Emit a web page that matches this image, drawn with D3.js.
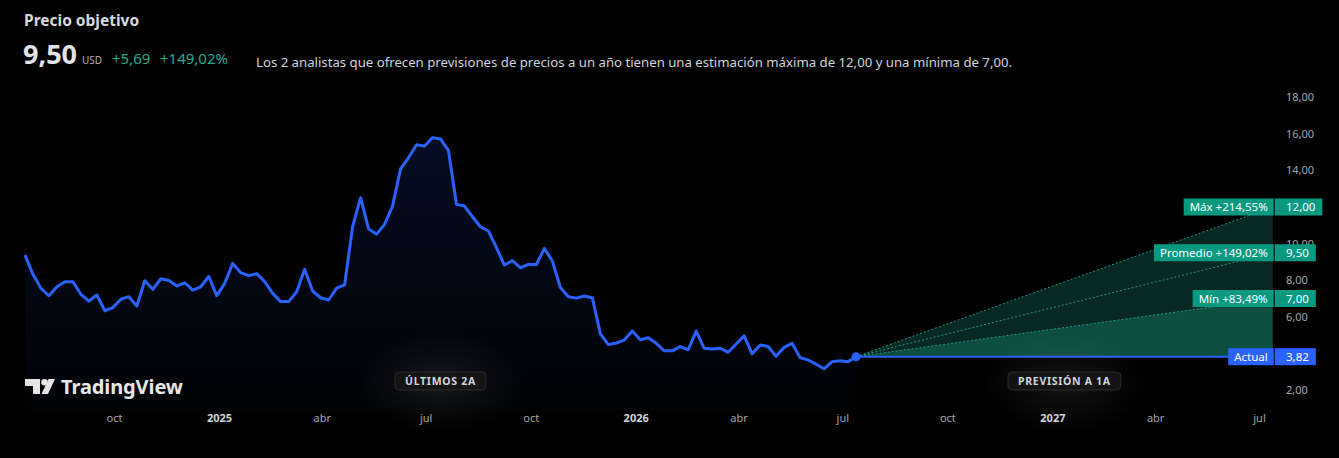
<!DOCTYPE html>
<html>
<head>
<meta charset="utf-8">
<script src="https://cdn.jsdelivr.net/npm/d3@7"></script>
<style>
  html, body { margin: 0; padding: 0; background: #000; }
  svg { display: block; font-family: 'Noto Sans', sans-serif; }
</style>
</head>
<body>
<div class="graphic_container"></div>
<script>
// weekly closes, Jul 2024 - Jul 2026
const firstWeek = new Date(2024, 6, 15);
const closes = [
  9.38, 8.32, 7.56, 7.15, 7.64, 7.92, 7.92, 7.23, 6.86, 7.19,
  6.33, 6.50, 6.96, 7.10, 6.59, 7.97, 7.50, 8.08, 7.99, 7.68,
  7.86, 7.46, 7.64, 8.20, 7.16, 7.83, 8.92, 8.41, 8.25, 8.36,
  7.92, 7.28, 6.83, 6.83, 7.37, 8.60, 7.41, 7.04, 6.92, 7.57,
  7.75, 10.92, 12.51, 10.80, 10.52, 11.05, 12.05, 14.08, 14.69, 15.40,
  15.33, 15.79, 15.72, 15.08, 12.15, 12.05, 11.47, 10.92, 10.69, 9.78,
  8.83, 9.07, 8.68, 8.86, 8.86, 9.74, 9.05, 7.60, 7.10, 7.02,
  7.14, 7.04, 5.08, 4.48, 4.57, 4.73, 5.23, 4.75, 4.86, 4.55,
  4.14, 4.14, 4.37, 4.20, 5.22, 4.28, 4.24, 4.28, 4.06, 4.51,
  4.96, 3.98, 4.46, 4.38, 3.84, 4.33, 4.55, 3.77, 3.64, 3.41,
  3.16, 3.55, 3.60, 3.55, 3.82
];

// analyst targets
const targetNames = ['Máx', 'Promedio', 'Mín'];
const targetValues = [12.00, 9.50, 7.00];
const targetChanges = ['+214,55%', '+149,02%', '+83,49%'];
const avgChange = '+5,69';
const currentPrice = 3.82;

const yTicks = [2, 4, 6, 8, 10, 12, 14, 16, 18];
const xTickDates = [
  new Date(2024, 9, 1), new Date(2025, 0, 1), new Date(2025, 3, 1), new Date(2025, 6, 1),
  new Date(2025, 9, 1), new Date(2026, 0, 1), new Date(2026, 3, 1), new Date(2026, 6, 1),
  new Date(2026, 9, 1), new Date(2027, 0, 1), new Date(2027, 3, 1), new Date(2027, 6, 1)
];
const xTickLabels = ['oct', '2025', 'abr', 'jul', 'oct', '2026', 'abr', 'jul', 'oct', '2027', 'abr', 'jul'];

const width = 1339, height = 458;
const green = '#22ab94';
const labelGreen = '#089981';
const blue = '#2962ff';

const data = closes.map((v, i) => ({ date: d3.timeWeek.offset(firstWeek, i), value: v }));
const last = data[data.length - 1];
const forecastEnd = d3.timeYear.offset(last.date, 1);

const x = d3.scaleTime()
  .domain([new Date(2024, 9, 1), new Date(2027, 6, 1)])
  .range([114, 1259]);

const y = d3.scaleLinear()
  .domain([2, 18])
  .range([390, 97.2]);

const fmt = v => d3.format('.2f')(v).replace('.', ',');

const svg = d3.select('.graphic_container')
  .append('svg')
  .attr('width', width)
  .attr('height', height);

const defs = svg.append('defs');

const areaGrad = defs.append('linearGradient')
  .attr('id', 'areaGrad')
  .attr('gradientUnits', 'userSpaceOnUse')
  .attr('x1', 0).attr('x2', 0)
  .attr('y1', y(16)).attr('y2', 410);
areaGrad.append('stop').attr('offset', 0).attr('stop-color', blue).attr('stop-opacity', 0.14);
areaGrad.append('stop').attr('offset', 1).attr('stop-color', blue).attr('stop-opacity', 0.02);

const glow = defs.append('radialGradient').attr('id', 'glow');
glow.append('stop').attr('offset', 0).attr('stop-color', '#3a3a3a').attr('stop-opacity', 0.35);
glow.append('stop').attr('offset', 1).attr('stop-color', '#3a3a3a').attr('stop-opacity', 0);

const x0 = x(data[0].date);
const xEnd = x(forecastEnd);
const plotRight = xEnd + 1;

// header
svg.append('text')
  .attr('x', 24).attr('y', 26)
  .style('font-size', '15.5px').style('font-weight', 700)
  .style('fill', '#d6d8de')
  .text('Precio objetivo');

svg.append('text')
  .attr('x', 23).attr('y', 64)
  .style('font-size', '27px').style('font-weight', 700)
  .style('fill', '#e3e4e8')
  .text(fmt(targetValues[1]));

svg.append('text')
  .attr('x', 82).attr('y', 64)
  .style('font-size', '10px')
  .style('fill', '#b2b5be')
  .text('USD');

svg.append('text')
  .attr('x', 112).attr('y', 64)
  .style('font-size', '15px')
  .style('fill', green)
  .text(avgChange);

svg.append('text')
  .attr('x', 160).attr('y', 64)
  .style('font-size', '15px')
  .style('fill', green)
  .text(targetChanges[1]);

svg.append('text')
  .attr('x', 256).attr('y', 67)
  .style('font-size', '13.2px')
  .style('fill', '#d1d4dc')
  .text(`Los 2 analistas que ofrecen previsiones de precios a un año tienen una estimación máxima de ${fmt(targetValues[0])} y una mínima de ${fmt(targetValues[2])}.`);

// glows behind the period badges
const badgeY = 381;
const badgeCenters = [(x0 + x(last.date)) / 2, (x(last.date) + xEnd) / 2];
badgeCenters.forEach(cx => {
  svg.append('ellipse')
    .attr('cx', cx).attr('cy', badgeY + 2)
    .attr('rx', 85).attr('ry', 50)
    .style('fill', 'url(#glow)');
});

// historic area + line
const area = d3.area()
  .x(d => x(d.date))
  .y0(410)
  .y1(d => y(d.value));

svg.append('path')
  .datum(data)
  .attr('d', area)
  .style('fill', 'url(#areaGrad)');

// forecast fills
const lx = x(last.date), ly = y(last.value);
svg.append('path')
  .attr('d', `M${lx},${ly}L${xEnd},${y(targetValues[0])}L${xEnd},${ly}Z`)
  .style('fill', green).style('opacity', 0.24);
svg.append('path')
  .attr('d', `M${lx},${ly}L${xEnd},${y(targetValues[2])}L${xEnd},${ly}Z`)
  .style('fill', green).style('opacity', 0.28);

targetValues.forEach(v => {
  svg.append('line')
    .attr('x1', lx).attr('y1', ly)
    .attr('x2', xEnd).attr('y2', y(v))
    .style('stroke', green)
    .style('stroke-width', 1)
    .style('stroke-dasharray', '2,2')
    .style('opacity', 0.85);
});

svg.append('line')
  .attr('x1', lx).attr('y1', ly)
  .attr('x2', plotRight).attr('y2', ly)
  .style('stroke', blue)
  .style('stroke-width', 2);

const line = d3.line()
  .x(d => x(d.date))
  .y(d => y(d.value));

svg.append('path')
  .datum(data)
  .attr('d', line)
  .style('fill', 'none')
  .style('stroke', blue)
  .style('stroke-width', 3)
  .style('stroke-linejoin', 'round');

svg.append('circle')
  .attr('cx', lx).attr('cy', ly)
  .attr('r', 4.5)
  .style('fill', blue);

// y axis
const yAxis = svg.append('g')
  .attr('transform', `translate(1286,0)`)
  .call(d3.axisRight(y).tickValues(yTicks).tickFormat(fmt).tickSize(0).tickPadding(0));
yAxis.select('.domain').remove();
yAxis.selectAll('text')
  .style('font-family', "'Noto Sans', sans-serif")
  .style('font-size', '11px')
  .style('fill', '#a3a6af');

// x axis
const xAxis = svg.append('g')
  .attr('transform', 'translate(0,414)')
  .call(d3.axisBottom(x).tickValues(xTickDates).tickFormat((d, i) => xTickLabels[i]).tickSize(0).tickPadding(0));
xAxis.select('.domain').remove();
xAxis.selectAll('text')
  .style('font-family', "'Noto Sans', sans-serif")
  .style('font-size', '11px')
  .style('fill', (d, i) => /^\d+$/.test(xTickLabels[i]) ? '#d1d4dc' : '#a3a6af')
  .style('font-weight', (d, i) => /^\d+$/.test(xTickLabels[i]) ? 700 : 400);

// target labels
const drawTag = (label, value, fill) => {
  const cy = y(value);
  const g = svg.append('g');
  const t = g.append('text')
    .attr('x', plotRight - 6).attr('y', cy)
    .attr('dy', '0.35em')
    .attr('text-anchor', 'end')
    .style('font-size', '11.5px')
    .style('fill', '#fff')
    .text(label);
  const w = t.node().getComputedTextLength();
  g.insert('rect', 'text')
    .attr('x', plotRight - w - 12).attr('y', cy - 8.5)
    .attr('width', w + 12).attr('height', 17)
    .style('fill', fill);

  const g2 = svg.append('g');
  const t2 = g2.append('text')
    .attr('x', 1286).attr('y', cy)
    .attr('dy', '0.35em')
    .style('font-size', '11.5px')
    .style('fill', '#fff')
    .text(fmt(value));
  const w2 = t2.node().getComputedTextLength();
  g2.insert('rect', 'text')
    .attr('x', plotRight + 1).attr('y', cy - 8.5)
    .attr('width', 1286 - plotRight - 1 + w2 + 7).attr('height', 17)
    .style('fill', fill);
};

targetValues.forEach((v, i) => drawTag(`${targetNames[i]} ${targetChanges[i]}`, v, labelGreen));
drawTag('Actual', currentPrice, blue);

// period badges
const badges = ['ÚLTIMOS 2A', 'PREVISIÓN A 1A'];
badges.forEach((b, i) => {
  const g = svg.append('g');
  const t = g.append('text')
    .attr('x', badgeCenters[i]).attr('y', badgeY)
    .attr('dy', '0.36em')
    .attr('text-anchor', 'middle')
    .style('font-size', '10.5px')
    .style('font-weight', 700)
    .style('letter-spacing', '0.7px')
    .style('fill', '#d1d4dc')
    .text(b);
  const w = t.node().getComputedTextLength();
  g.insert('rect', 'text')
    .attr('x', badgeCenters[i] - w / 2 - 10).attr('y', badgeY - 9)
    .attr('width', w + 20).attr('height', 18)
    .attr('rx', 4)
    .style('fill', '#141414')
    .style('stroke', '#2a2a2a');
});

// TradingView logo
const logo = svg.append('g').style('fill', '#e6e6e6');
logo.append('path').attr('d', 'M25,379H40V394H33V386H25Z');
logo.append('circle').attr('cx', 44.5).attr('cy', 382.3).attr('r', 3.3);
logo.append('path').attr('d', 'M48.5,379H55L48,394H41.5Z');
logo.append('text')
  .attr('x', 61).attr('y', 393.5)
  .style('font-size', '20px')
  .style('font-weight', 700)
  .style('letter-spacing', '-0.1px')
  .text('TradingView');
</script>
</body>
</html>
